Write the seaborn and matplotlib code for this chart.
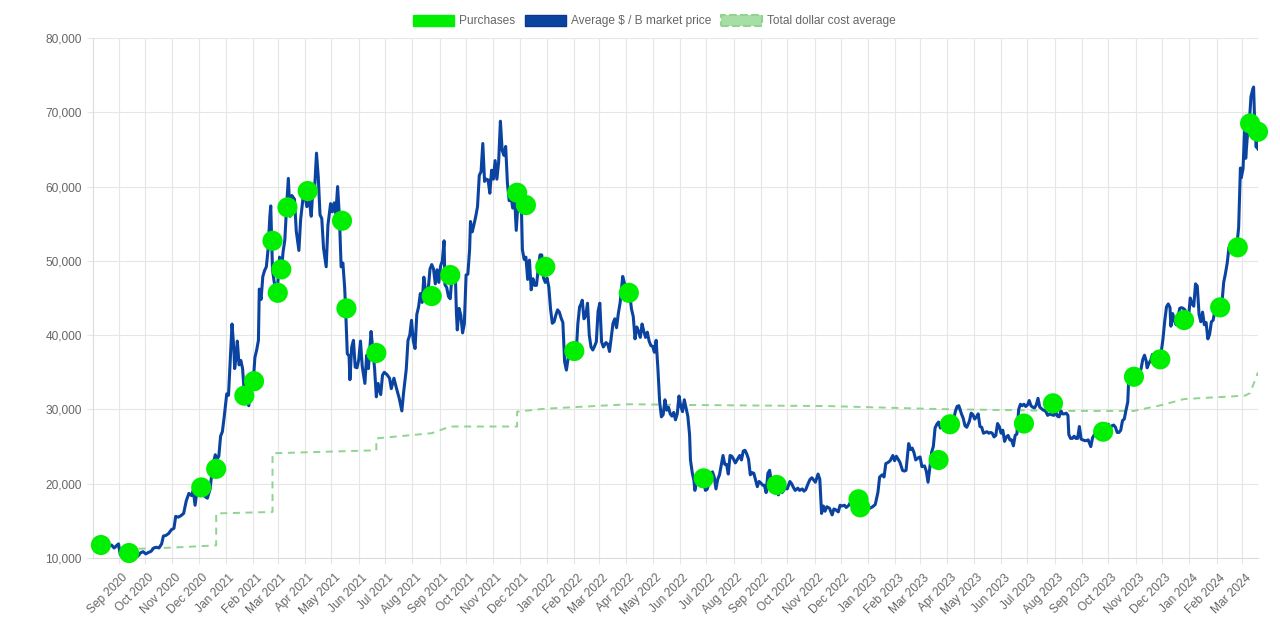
import pandas as pd
import matplotlib.pyplot as plt
import matplotlib.dates as mdates
import matplotlib.ticker as mticker
from matplotlib.patches import Patch
from matplotlib.transforms import ScaledTranslation
import seaborn as sns

# average market price (date, $), one list per year
price_2020 = [
    ("2020-08-03", 11200), ("2020-08-06", 11750), ("2020-08-09", 11650), ("2020-08-12", 11550),
    ("2020-08-15", 11900), ("2020-08-18", 12100), ("2020-08-21", 11550), ("2020-08-24", 11750),
    ("2020-08-27", 11350), ("2020-08-30", 11700), ("2020-09-01", 11900), ("2020-09-03", 10450),
    ("2020-09-05", 10250), ("2020-09-08", 10100), ("2020-09-11", 10350), ("2020-09-14", 10700),
    ("2020-09-17", 10950), ("2020-09-20", 10900), ("2020-09-23", 10250), ("2020-09-26", 10700),
    ("2020-09-29", 10850), ("2020-10-02", 10550), ("2020-10-05", 10750), ("2020-10-08", 10900),
    ("2020-10-11", 11350), ("2020-10-14", 11450), ("2020-10-17", 11350), ("2020-10-20", 11900),
    ("2020-10-22", 12950), ("2020-10-25", 13050), ("2020-10-28", 13300), ("2020-10-31", 13800),
    ("2020-11-03", 14000), ("2020-11-05", 15600), ("2020-11-08", 15500), ("2020-11-11", 15700),
    ("2020-11-14", 16000), ("2020-11-17", 17700), ("2020-11-20", 18700), ("2020-11-23", 18400),
    ("2020-11-25", 19100), ("2020-11-27", 17100), ("2020-11-30", 19700), ("2020-12-02", 19000),
    ("2020-12-05", 19100), ("2020-12-08", 18300), ("2020-12-11", 18050), ("2020-12-14", 19250),
    ("2020-12-16", 21300), ("2020-12-18", 22900), ("2020-12-20", 23900), ("2020-12-22", 23300),
    ("2020-12-24", 23700), ("2020-12-26", 26400), ("2020-12-28", 27000), ("2020-12-30", 28900),
]
price_2021 = [
    ("2021-01-02", 32100), ("2021-01-04", 31900), ("2021-01-06", 36800), ("2021-01-08", 41500),
    ("2021-01-10", 38300), ("2021-01-11", 35500), ("2021-01-13", 37400), ("2021-01-14", 39200),
    ("2021-01-16", 36000), ("2021-01-18", 36600), ("2021-01-20", 35500), ("2021-01-22", 32100),
    ("2021-01-25", 32300), ("2021-01-27", 30500), ("2021-01-29", 34300), ("2021-02-01", 33500),
    ("2021-02-03", 37000), ("2021-02-05", 38000), ("2021-02-07", 39300), ("2021-02-08", 46200),
    ("2021-02-10", 44800), ("2021-02-12", 47900), ("2021-02-14", 48700), ("2021-02-16", 49200),
    ("2021-02-18", 51600), ("2021-02-20", 56000), ("2021-02-21", 57400), ("2021-02-23", 48800),
    ("2021-02-25", 47100), ("2021-02-27", 46300), ("2021-02-28", 45200), ("2021-03-03", 50500),
    ("2021-03-05", 48400), ("2021-03-07", 51200), ("2021-03-09", 52800), ("2021-03-11", 57300),
    ("2021-03-13", 61100), ("2021-03-15", 56000), ("2021-03-17", 58800), ("2021-03-20", 58300),
    ("2021-03-22", 54000), ("2021-03-25", 51400), ("2021-03-27", 55600), ("2021-03-30", 58800),
    ("2021-04-01", 58700), ("2021-04-03", 57300), ("2021-04-06", 58000), ("2021-04-08", 56000),
    ("2021-04-10", 59800), ("2021-04-12", 60000), ("2021-04-14", 64500), ("2021-04-16", 61300),
    ("2021-04-18", 56200), ("2021-04-20", 55700), ("2021-04-22", 51700), ("2021-04-24", 50000),
    ("2021-04-25", 49200), ("2021-04-27", 54800), ("2021-04-30", 57700), ("2021-05-02", 56600),
    ("2021-05-04", 57800), ("2021-05-06", 56400), ("2021-05-08", 60000), ("2021-05-10", 56000),
    ("2021-05-12", 49200), ("2021-05-14", 49700), ("2021-05-16", 46400), ("2021-05-17", 43800),
    ("2021-05-19", 37500), ("2021-05-21", 37200), ("2021-05-22", 34000), ("2021-05-24", 38400),
    ("2021-05-26", 39300), ("2021-05-28", 35700), ("2021-05-30", 35600), ("2021-06-01", 36700),
    ("2021-06-03", 39200), ("2021-06-05", 35800), ("2021-06-08", 33500), ("2021-06-10", 37300),
    ("2021-06-12", 35500), ("2021-06-15", 40500), ("2021-06-17", 38100), ("2021-06-19", 35500),
    ("2021-06-21", 31700), ("2021-06-23", 33500), ("2021-06-26", 32000), ("2021-06-28", 34600),
    ("2021-06-30", 35000), ("2021-07-03", 34700), ("2021-07-06", 34200), ("2021-07-08", 32800),
    ("2021-07-11", 34200), ("2021-07-14", 32800), ("2021-07-17", 31500), ("2021-07-20", 29800),
    ("2021-07-22", 32300), ("2021-07-25", 35400), ("2021-07-27", 39300), ("2021-07-29", 40000),
    ("2021-07-31", 42000), ("2021-08-02", 39200), ("2021-08-04", 38200), ("2021-08-06", 42800),
    ("2021-08-08", 43800), ("2021-08-10", 45600), ("2021-08-12", 44400), ("2021-08-14", 47800),
    ("2021-08-16", 45900), ("2021-08-18", 44800), ("2021-08-21", 48900), ("2021-08-23", 49500),
    ("2021-08-25", 48900), ("2021-08-27", 46900), ("2021-08-29", 48800), ("2021-08-31", 47100),
    ("2021-09-02", 49300), ("2021-09-04", 50000), ("2021-09-06", 52700), ("2021-09-07", 46800),
    ("2021-09-09", 46400), ("2021-09-11", 45200), ("2021-09-13", 44900), ("2021-09-15", 48100),
    ("2021-09-17", 47300), ("2021-09-19", 47300), ("2021-09-20", 43000), ("2021-09-21", 40700),
    ("2021-09-23", 43600), ("2021-09-25", 42700), ("2021-09-27", 40300), ("2021-09-29", 41500),
    ("2021-10-01", 48100), ("2021-10-03", 48200), ("2021-10-05", 51500), ("2021-10-06", 55300),
    ("2021-10-08", 53900), ("2021-10-10", 54900), ("2021-10-12", 56000), ("2021-10-14", 57300),
    ("2021-10-16", 61500), ("2021-10-18", 62000), ("2021-10-20", 65800), ("2021-10-22", 60700),
    ("2021-10-24", 61000), ("2021-10-26", 60900), ("2021-10-28", 59100), ("2021-10-30", 62200),
    ("2021-11-01", 61000), ("2021-11-03", 63500), ("2021-11-05", 61000), ("2021-11-07", 63300),
    ("2021-11-09", 68800), ("2021-11-11", 64900), ("2021-11-13", 64200), ("2021-11-15", 65400),
    ("2021-11-17", 60400), ("2021-11-19", 58100), ("2021-11-21", 58700), ("2021-11-23", 57100),
    ("2021-11-25", 58900), ("2021-11-27", 54100), ("2021-11-29", 57800), ("2021-12-01", 57300),
    ("2021-12-03", 56500), ("2021-12-04", 51500), ("2021-12-06", 50200), ("2021-12-08", 50500),
    ("2021-12-10", 47500), ("2021-12-12", 50100), ("2021-12-14", 46100), ("2021-12-16", 47600),
    ("2021-12-18", 46700), ("2021-12-20", 46700), ("2021-12-22", 48900), ("2021-12-24", 50800),
    ("2021-12-26", 50800), ("2021-12-28", 47700), ("2021-12-30", 47100),
]
price_2022 = [
    ("2022-01-01", 47700), ("2022-01-03", 46500), ("2022-01-05", 43500), ("2022-01-07", 41600),
    ("2022-01-09", 41800), ("2022-01-11", 42700), ("2022-01-13", 43400), ("2022-01-15", 43100),
    ("2022-01-17", 42300), ("2022-01-19", 41700), ("2022-01-21", 36400), ("2022-01-23", 35300),
    ("2022-01-25", 36900), ("2022-01-27", 37000), ("2022-01-29", 37900), ("2022-02-01", 38800),
    ("2022-02-03", 37300), ("2022-02-05", 41500), ("2022-02-07", 43800), ("2022-02-09", 44300),
    ("2022-02-10", 44700), ("2022-02-12", 42200), ("2022-02-14", 42600), ("2022-02-16", 44300),
    ("2022-02-18", 40000), ("2022-02-20", 38400), ("2022-02-22", 38000), ("2022-02-24", 38500),
    ("2022-02-26", 39100), ("2022-02-28", 43200), ("2022-03-02", 44300), ("2022-03-04", 39100),
    ("2022-03-06", 38400), ("2022-03-09", 39000), ("2022-03-11", 38800), ("2022-03-13", 37800),
    ("2022-03-15", 39700), ("2022-03-17", 41600), ("2022-03-19", 42200), ("2022-03-21", 41000),
    ("2022-03-23", 42900), ("2022-03-25", 44300), ("2022-03-28", 47900), ("2022-03-30", 47000),
    ("2022-04-01", 46300), ("2022-04-03", 46400), ("2022-04-05", 45500), ("2022-04-07", 43500),
    ("2022-04-09", 42500), ("2022-04-11", 39500), ("2022-04-13", 41100), ("2022-04-15", 40500),
    ("2022-04-17", 39700), ("2022-04-19", 41500), ("2022-04-21", 40500), ("2022-04-23", 39700),
    ("2022-04-25", 40400), ("2022-04-27", 39200), ("2022-04-29", 38600), ("2022-05-01", 38500),
    ("2022-05-03", 37700), ("2022-05-05", 39300), ("2022-05-07", 35500), ("2022-05-09", 31000),
    ("2022-05-11", 29000), ("2022-05-13", 29300), ("2022-05-15", 31300), ("2022-05-17", 29900),
    ("2022-05-19", 30300), ("2022-05-21", 29400), ("2022-05-23", 29100), ("2022-05-25", 29600),
    ("2022-05-27", 28600), ("2022-05-29", 29400), ("2022-05-31", 31800), ("2022-06-02", 30400),
    ("2022-06-04", 29700), ("2022-06-06", 31300), ("2022-06-08", 30200), ("2022-06-10", 29100),
    ("2022-06-12", 26600), ("2022-06-13", 23200), ("2022-06-15", 21500), ("2022-06-17", 20400),
    ("2022-06-18", 19100), ("2022-06-20", 20500), ("2022-06-22", 20000), ("2022-06-24", 21200),
    ("2022-06-26", 21000), ("2022-06-28", 20300), ("2022-06-30", 19100), ("2022-07-02", 19250),
    ("2022-07-04", 20200), ("2022-07-06", 20500), ("2022-07-08", 21600), ("2022-07-10", 20900),
    ("2022-07-12", 19300), ("2022-07-14", 20600), ("2022-07-16", 21200), ("2022-07-18", 22500),
    ("2022-07-20", 23800), ("2022-07-22", 22600), ("2022-07-24", 22600), ("2022-07-26", 21300),
    ("2022-07-28", 23800), ("2022-07-30", 23700), ("2022-08-01", 23300), ("2022-08-03", 22800),
    ("2022-08-05", 23200), ("2022-08-08", 23800), ("2022-08-10", 23200), ("2022-08-12", 24400),
    ("2022-08-14", 24500), ("2022-08-16", 24000), ("2022-08-18", 23300), ("2022-08-20", 21200),
    ("2022-08-22", 21500), ("2022-08-24", 21400), ("2022-08-26", 20500), ("2022-08-28", 19600),
    ("2022-08-30", 20300), ("2022-09-01", 20100), ("2022-09-03", 19800), ("2022-09-05", 19800),
    ("2022-09-07", 18800), ("2022-09-09", 21400), ("2022-09-11", 21800), ("2022-09-13", 20200),
    ("2022-09-15", 19700), ("2022-09-17", 20100), ("2022-09-19", 19400), ("2022-09-21", 18500),
    ("2022-09-23", 19300), ("2022-09-25", 18800), ("2022-09-27", 19100), ("2022-09-29", 19500),
    ("2022-10-01", 19300), ("2022-10-04", 20300), ("2022-10-06", 20000), ("2022-10-08", 19500),
    ("2022-10-10", 19100), ("2022-10-13", 19400), ("2022-10-15", 19100), ("2022-10-18", 19300),
    ("2022-10-20", 19000), ("2022-10-22", 19200), ("2022-10-25", 20100), ("2022-10-27", 20600),
    ("2022-10-29", 20800), ("2022-10-31", 20500), ("2022-11-02", 20200), ("2022-11-05", 21300),
    ("2022-11-07", 20600), ("2022-11-09", 16000), ("2022-11-11", 17000), ("2022-11-13", 16300),
    ("2022-11-15", 16900), ("2022-11-18", 16700), ("2022-11-21", 15800), ("2022-11-23", 16600),
    ("2022-11-25", 16500), ("2022-11-28", 16200), ("2022-11-30", 17100), ("2022-12-02", 17000),
    ("2022-12-05", 17100), ("2022-12-07", 16800), ("2022-12-10", 17100), ("2022-12-13", 17800),
    ("2022-12-15", 17400), ("2022-12-17", 16800), ("2022-12-20", 16900), ("2022-12-23", 16800),
    ("2022-12-26", 16900), ("2022-12-29", 16600), ("2022-12-31", 16600),
]
price_2023 = [
    ("2023-01-03", 16700), ("2023-01-06", 16900), ("2023-01-09", 17200), ("2023-01-12", 18800),
    ("2023-01-14", 20900), ("2023-01-17", 21200), ("2023-01-19", 20900), ("2023-01-21", 22700),
    ("2023-01-24", 22900), ("2023-01-26", 23100), ("2023-01-29", 23800), ("2023-01-31", 23100),
    ("2023-02-02", 23700), ("2023-02-04", 23300), ("2023-02-06", 22900), ("2023-02-09", 21800),
    ("2023-02-11", 21700), ("2023-02-13", 21800), ("2023-02-15", 24300), ("2023-02-16", 25400),
    ("2023-02-18", 24600), ("2023-02-20", 24800), ("2023-02-22", 24200), ("2023-02-24", 23200),
    ("2023-02-27", 23500), ("2023-03-01", 23600), ("2023-03-03", 22300), ("2023-03-06", 22400),
    ("2023-03-08", 21700), ("2023-03-10", 20200), ("2023-03-12", 22100), ("2023-03-14", 24200),
    ("2023-03-16", 25000), ("2023-03-18", 27500), ("2023-03-20", 28000), ("2023-03-22", 28300),
    ("2023-03-24", 27500), ("2023-03-26", 28000), ("2023-03-28", 27200), ("2023-03-30", 28400),
    ("2023-04-01", 28400), ("2023-04-04", 28200), ("2023-04-07", 28000), ("2023-04-10", 29700),
    ("2023-04-12", 30400), ("2023-04-14", 30500), ("2023-04-17", 29400), ("2023-04-19", 28800),
    ("2023-04-21", 27800), ("2023-04-23", 27600), ("2023-04-26", 28400), ("2023-04-28", 29500),
    ("2023-04-30", 29300), ("2023-05-02", 28700), ("2023-05-04", 29000), ("2023-05-06", 29400),
    ("2023-05-08", 27700), ("2023-05-10", 27600), ("2023-05-12", 26800), ("2023-05-14", 26900),
    ("2023-05-16", 27000), ("2023-05-18", 26800), ("2023-05-20", 26900), ("2023-05-22", 26800),
    ("2023-05-24", 26300), ("2023-05-26", 26500), ("2023-05-28", 28100), ("2023-05-30", 27700),
    ("2023-06-01", 26800), ("2023-06-03", 27200), ("2023-06-05", 25700), ("2023-06-07", 26300),
    ("2023-06-09", 26500), ("2023-06-11", 25900), ("2023-06-13", 25900), ("2023-06-15", 25100),
    ("2023-06-17", 26500), ("2023-06-19", 26700), ("2023-06-21", 30000), ("2023-06-23", 30700),
    ("2023-06-25", 30500), ("2023-06-27", 30700), ("2023-06-29", 30400), ("2023-07-01", 30600),
    ("2023-07-03", 31200), ("2023-07-05", 30500), ("2023-07-07", 30300), ("2023-07-09", 30200),
    ("2023-07-11", 30600), ("2023-07-13", 31500), ("2023-07-15", 30300), ("2023-07-17", 30100),
    ("2023-07-19", 29900), ("2023-07-21", 29900), ("2023-07-24", 29200), ("2023-07-26", 29400),
    ("2023-07-28", 29300), ("2023-07-31", 29200), ("2023-08-02", 29700), ("2023-08-04", 29100),
    ("2023-08-06", 29000), ("2023-08-08", 29800), ("2023-08-10", 29400), ("2023-08-12", 29400),
    ("2023-08-14", 29500), ("2023-08-16", 29200), ("2023-08-17", 26600), ("2023-08-19", 26100),
    ("2023-08-21", 26100), ("2023-08-23", 26400), ("2023-08-25", 26100), ("2023-08-27", 26100),
    ("2023-08-29", 27700), ("2023-08-31", 26000), ("2023-09-02", 25900), ("2023-09-04", 25800),
    ("2023-09-06", 25800), ("2023-09-08", 25900), ("2023-09-11", 25000), ("2023-09-13", 26200),
    ("2023-09-15", 26600), ("2023-09-17", 26500), ("2023-09-19", 27200), ("2023-09-21", 26600),
    ("2023-09-23", 26600), ("2023-09-25", 26300), ("2023-09-27", 26200), ("2023-09-29", 27000),
    ("2023-10-01", 28000), ("2023-10-03", 27500), ("2023-10-05", 27800), ("2023-10-07", 27900),
    ("2023-10-09", 27600), ("2023-10-11", 26900), ("2023-10-13", 26900), ("2023-10-15", 27200),
    ("2023-10-17", 28500), ("2023-10-19", 28700), ("2023-10-21", 29900), ("2023-10-23", 31000),
    ("2023-10-24", 33900), ("2023-10-26", 34200), ("2023-10-28", 34100), ("2023-10-30", 34500),
    ("2023-11-01", 35400), ("2023-11-03", 34700), ("2023-11-05", 35000), ("2023-11-07", 35400),
    ("2023-11-09", 36700), ("2023-11-11", 37300), ("2023-11-13", 36500), ("2023-11-14", 35600),
    ("2023-11-16", 36200), ("2023-11-18", 36600), ("2023-11-20", 37400), ("2023-11-22", 37300),
    ("2023-11-24", 37700), ("2023-11-26", 37400), ("2023-11-28", 37800), ("2023-11-30", 37700),
    ("2023-12-02", 39500), ("2023-12-04", 41900), ("2023-12-06", 43800), ("2023-12-08", 44200),
    ("2023-12-10", 43700), ("2023-12-11", 41200), ("2023-12-13", 42900), ("2023-12-15", 41900),
    ("2023-12-17", 41400), ("2023-12-19", 42300), ("2023-12-21", 43600), ("2023-12-23", 43700),
    ("2023-12-25", 43600), ("2023-12-27", 43400), ("2023-12-29", 42100), ("2023-12-31", 42300),
]
price_2024 = [
    ("2024-01-02", 45000), ("2024-01-04", 44200), ("2024-01-06", 43900), ("2024-01-08", 46900),
    ("2024-01-10", 46600), ("2024-01-12", 42800), ("2024-01-14", 41800), ("2024-01-16", 43100),
    ("2024-01-18", 41400), ("2024-01-20", 41700), ("2024-01-22", 39500), ("2024-01-24", 40100),
    ("2024-01-26", 41800), ("2024-01-28", 42000), ("2024-01-30", 43300), ("2024-02-01", 43100),
    ("2024-02-03", 43000), ("2024-02-05", 42700), ("2024-02-07", 44300), ("2024-02-09", 47100),
    ("2024-02-11", 48300), ("2024-02-13", 49700), ("2024-02-15", 51800), ("2024-02-17", 51700),
    ("2024-02-19", 52000), ("2024-02-21", 51600), ("2024-02-23", 50800), ("2024-02-26", 54500),
    ("2024-02-28", 62500), ("2024-02-29", 61200), ("2024-03-02", 62400), ("2024-03-04", 68300),
    ("2024-03-05", 63800), ("2024-03-07", 66900), ("2024-03-09", 68300), ("2024-03-11", 72100),
    ("2024-03-13", 73100), ("2024-03-14", 73400), ("2024-03-15", 69400), ("2024-03-17", 65300),
    ("2024-03-18", 67600), ("2024-03-19", 65000),
]

purchase_dates = [
    "2020-08-12", "2020-09-13", "2020-12-04", "2020-12-21", "2021-01-22", "2021-02-02", "2021-02-23",
    "2021-03-01", "2021-03-05", "2021-03-12", "2021-04-04", "2021-05-13", "2021-05-18", "2021-06-21",
    "2021-08-23", "2021-09-13", "2021-11-28", "2021-12-08", "2021-12-30", "2022-02-01", "2022-04-04",
    "2022-06-28", "2022-09-19", "2022-12-21", "2022-12-23", "2023-03-22", "2023-04-04", "2023-06-27",
    "2023-07-30", "2023-09-25", "2023-10-30", "2023-11-29", "2023-12-26", "2024-02-05", "2024-02-25",
    "2024-03-10", "2024-03-19",
]
purchase_values = [
    11750, 10670, 19500, 22000, 31850, 33800, 52700,
    45700, 48850, 57200, 59400, 55400, 43600, 37600,
    45260, 48090, 59170, 57510, 49200, 37860, 45700,
    20730, 19830, 17900, 16820, 23190, 28000, 28100,
    30820, 27000, 34400, 36740, 42030, 43740, 51820,
    68500, 67380,
]

# running dollar cost average (repeated dates are the steps)
dca_dates = [
    "2020-08-12", "2020-09-13", "2020-11-01", "2020-12-21", "2020-12-21", "2021-02-23", "2021-02-23",
    "2021-06-21", "2021-06-21", "2021-08-23", "2021-09-13", "2021-11-28", "2021-11-28", "2021-12-30",
    "2022-04-04", "2022-06-11", "2022-11-17", "2023-03-22", "2023-08-09", "2023-10-30", "2023-12-01",
    "2023-12-26", "2024-03-04", "2024-03-10", "2024-03-19",
]
dca_values = [
    11750, 11200, 11400, 11700, 16000, 16200, 24100,
    24500, 26100, 26800, 27700, 27700, 29700, 30100,
    30700, 30600, 30450, 30050, 29800, 29800, 30600,
    31400, 31850, 32200, 35000,
]

legend_labels = ["Purchases", "Average $ / B market price", "Total dollar cost average"]

blue = "#0b44a0"
lime = "#00ee00"
dca_green = "#8fd48f"
grid_grey = "#e6e6e6"
text_grey = "#666666"

prices = pd.DataFrame(price_2020 + price_2021 + price_2022 + price_2023 + price_2024,
                      columns=["date", "price"])
prices["date"] = pd.to_datetime(prices["date"])
buys = pd.DataFrame({"date": pd.to_datetime(purchase_dates), "price": purchase_values})
dca = pd.DataFrame({"date": pd.to_datetime(dca_dates), "price": dca_values})

sns.set_theme(style="whitegrid")
plt.rcParams["font.family"] = ["Liberation Sans", "DejaVu Sans"]

fig = plt.figure(figsize=(12.8, 6.2), dpi=100)
ax = fig.add_axes([93 / 1280, 62 / 620, 1165 / 1280, 520 / 620])

sns.lineplot(data=dca, x="date", y="price", estimator=None, sort=False,
             color=dca_green, lw=1.4, ax=ax, zorder=2)
ax.lines[-1].set_dashes([3.6, 2.9])
sns.lineplot(data=prices, x="date", y="price", estimator=None, color=blue, lw=2.2,
             ax=ax, zorder=3)
sns.scatterplot(data=buys, x="date", y="price", color=lime, s=210, edgecolor="none",
                ax=ax, zorder=4, legend=False, clip_on=False)

ax.set_xlim(prices["date"].iloc[0], prices["date"].iloc[-1])
ax.set_ylim(10000, 80000)
ax.yaxis.set_major_locator(mticker.MultipleLocator(10000))
ax.yaxis.set_major_formatter(mticker.StrMethodFormatter("{x:,.0f}"))
ax.xaxis.set_major_locator(mdates.MonthLocator())
ax.xaxis.set_major_formatter(mdates.DateFormatter("%b %Y"))

ax.set_xlabel("")
ax.set_ylabel("")
ax.grid(True, color=grid_grey, lw=0.8)
for side in ["top", "right"]:
    ax.spines[side].set_visible(False)
for side in ["left", "bottom"]:
    ax.spines[side].set_color("#dcdcdc")
    ax.spines[side].set_linewidth(0.8)

ax.tick_params(axis="both", which="major", bottom=True, left=True, length=4, width=0.8,
               color=grid_grey, labelsize=8.6, labelcolor=text_grey)
ax.tick_params(axis="y", pad=4)
ax.tick_params(axis="x", pad=9)

shift = ScaledTranslation(7 / 100, 0, fig.dpi_scale_trans)
for lbl in ax.get_xticklabels():
    lbl.set_rotation(45)
    lbl.set_ha("right")
    lbl.set_va("center")
    lbl.set_rotation_mode("anchor")
    lbl.set_transform(lbl.get_transform() + shift)

handles = [
    Patch(facecolor=lime, edgecolor=lime),
    Patch(facecolor=blue, edgecolor="#083a8c"),
    Patch(facecolor="#a6dea6", edgecolor=dca_green, linestyle="--", lw=1.5),
]
fig.legend(handles, legend_labels, loc="center", bbox_to_anchor=(654.5 / 1280, 1 - 21 / 620),
           ncol=3, frameon=False, fontsize=8.6, labelcolor=text_grey,
           handlelength=3.4, handleheight=1.1, handletextpad=0.45, columnspacing=0.8,
           borderpad=0)

fig.savefig("out.png", dpi=100)
